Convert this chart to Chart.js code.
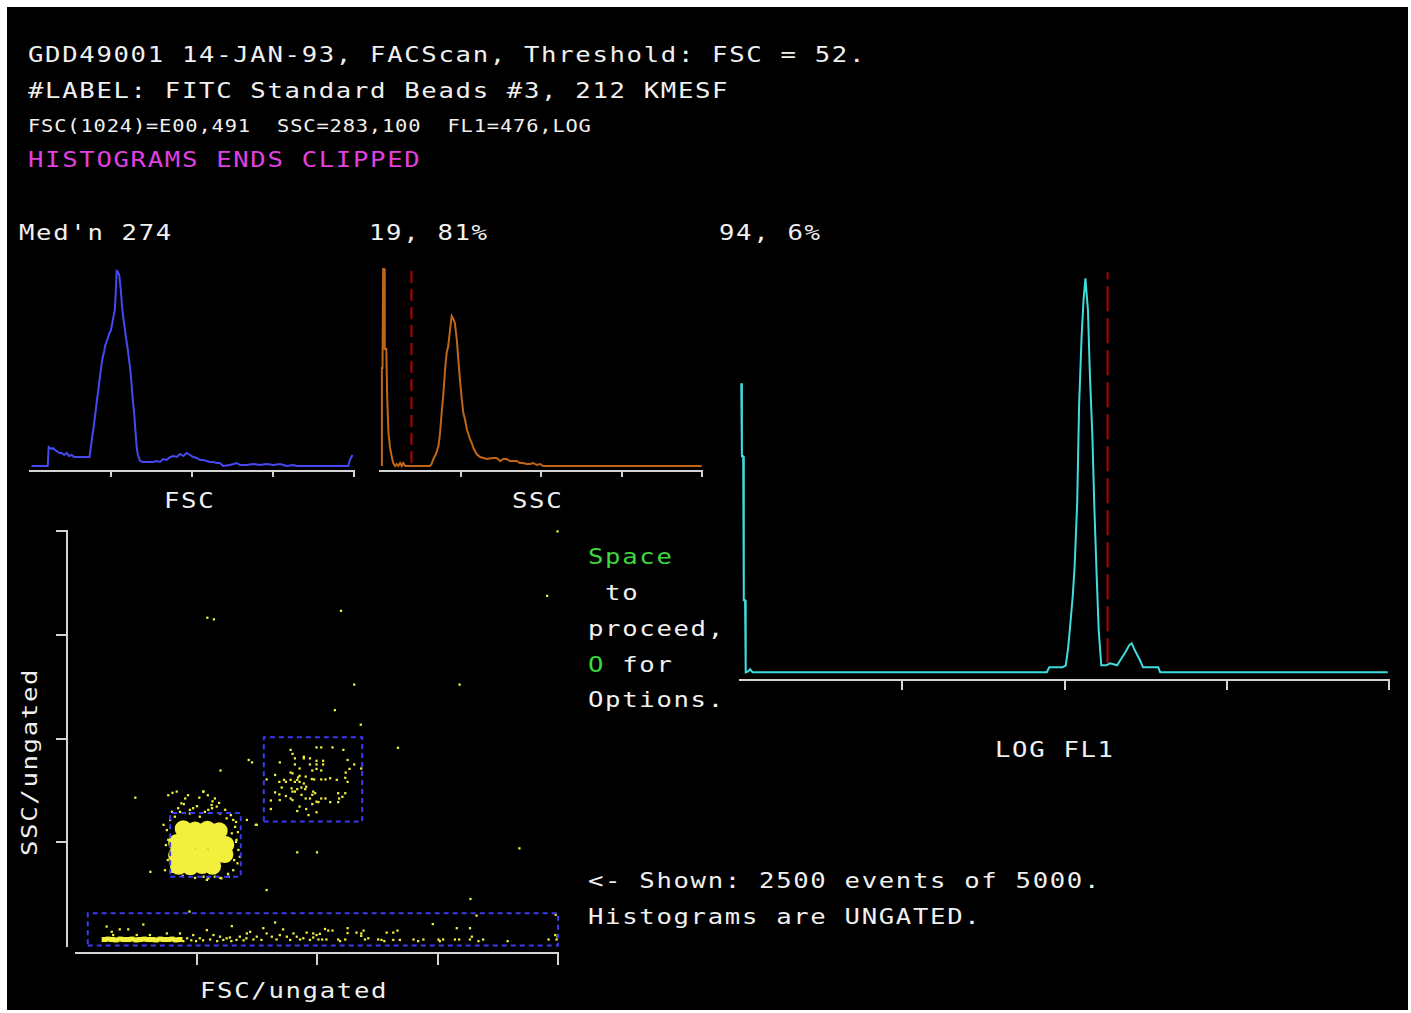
<!DOCTYPE html>
<html>
<head>
<meta charset="utf-8">
<script src="https://cdn.jsdelivr.net/npm/chart.js@4.4.1/dist/chart.umd.min.js"></script>
<style>
html,body{margin:0;padding:0;background:#ffffff;}
#screen{position:absolute;left:7px;top:7px;width:1401px;height:1003px;background:#000;}
.t{position:absolute;white-space:pre;font-family:'DejaVu Sans Mono',monospace;font-size:20.5px;line-height:24px;letter-spacing:1.34px;color:#f0f0f0;transform-origin:0 0;transform:scaleX(1.25);}
.s{font-size:17px;line-height:20px;letter-spacing:0.69px;transform:scaleX(1.2);}
.rot{transform:rotate(-90deg) scaleX(1.25);}
.mag{color:#e040e0;}
.grn{color:#3cd83c;}
canvas{position:absolute;}
</style>
</head>
<body>
<div id="screen"></div>

<div class="t" style="left:28px;top:43px;">GDD49001 14-JAN-93, FACScan, Threshold: FSC = 52.</div>
<div class="t" style="left:28px;top:79px;">#LABEL: FITC Standard Beads #3, 212 KMESF</div>
<div class="t s" style="left:28px;top:116px;">FSC(1024)=E00,491  SSC=283,100  FL1=476,LOG</div>
<div class="t mag" style="left:28px;top:147.5px;">HISTOGRAMS ENDS CLIPPED</div>

<div class="t" style="left:19px;top:221px;">Med'n 274</div>
<div class="t" style="left:369px;top:221px;">19, 81%</div>
<div class="t" style="left:719px;top:221px;">94, 6%</div>

<div class="t" style="left:164px;top:489px;">FSC</div>
<div class="t" style="left:512px;top:489px;">SSC</div>
<div class="t" style="left:995px;top:738px;">LOG FL1</div>
<div class="t" style="left:200px;top:979px;">FSC/ungated</div>
<div class="t rot" style="left:18px;top:856px;">SSC/ungated</div>

<div class="t grn" style="left:588px;top:545px;">Space</div>
<div class="t" style="left:588px;top:581px;"> to</div>
<div class="t" style="left:588px;top:617px;">proceed,</div>
<div class="t" style="left:588px;top:652.5px;"><span class="grn">O</span> for</div>
<div class="t" style="left:588px;top:688px;">Options.</div>

<div class="t" style="left:588px;top:869px;">&lt;- Shown: 2500 events of 5000.</div>
<div class="t" style="left:588px;top:905px;">Histograms are UNGATED.</div>

<canvas id="fsc" width="350" height="235" style="left:20px;top:250px;"></canvas>
<canvas id="ssc" width="350" height="235" style="left:370px;top:250px;"></canvas>
<canvas id="fl1" width="670" height="445" style="left:730px;top:255px;"></canvas>
<canvas id="dot" width="560" height="460" style="left:20px;top:520px;"></canvas>

<script>
// ---------- FSC histogram (channel, events) ----------
const fscChannel = [5,56,59,63,69,74,79,84,93,100,108,116,123,132,139,188,192,196,200,204,209,213,217,221,225,230,234,238,242,247,251,255,259,263,268,271,274,278,282,287,291,295,299,303,308,312,316,320,324,329,333,337,341,348,358,390,400,411,421,432,443,453,464,474,485,495,506,516,527,537,548,558,569,579,590,600,611,632,643,653,664,685,706,727,748,769,790,811,832,843,1006,1011,1019];
const fscCount = [0,0,19,18,17,18,16,15,13,13,11,13,10,11,9,9,18,28,36,46,59,69,79,89,99,109,114,121,124,129,133,135,141,148,156,173,195,194,191,176,159,148,139,129,119,109,99,86,69,53,36,19,11,5,4,4,5,4,7,6,9,10,9,12,10,13,11,9,8,6,6,5,4,4,3,3,0,1,2,3,1,1,2,1,2,1,2,0,1,0,0,6,11];

// ---------- SSC histogram ----------
const sscChannel = [6,6,8,10,13,15,20,23,27,32,37,42,48,53,58,64,69,74,80,159,164,170,178,186,191,196,201,207,212,217,223,228,233,238,244,249,254,260,265,270,276,281,286,292,297,302,307,318,329,339,360,371,382,392,403,413,424,435,445,456,466,477,488,498,509,519,1023];
const sscCount = [0,98,98,197,197,117,117,67,33,18,10,3,0,2,0,3,0,3,0,0,2,7,12,20,33,53,70,97,113,120,137,150,147,143,127,107,87,67,53,47,37,32,27,23,18,15,12,9,8,7,8,8,5,7,7,5,5,5,3,3,2,2,3,1,2,0,0];
const sscMarkerChannel = [100,100];
const sscMarkerCount = [3,197];

// ---------- LOG FL1 histogram ----------
const fl1Channel = [2,3,5,6,8,9,13,16,20,484,488,509,514,518,521,525,528,532,535,539,542,545,549,552,556,559,563,566,570,578,584,595,600,608,614,618,623,631,636,660,663,1022];
const fl1Count = [289,216,216,72,72,0,1,3,0,0,5,5,7,26,47,76,106,169,266,336,372,394,362,299,236,167,92,42,7,7,9,7,12,20,27,29,22,12,5,5,0,0];
const fl1MarkerChannel = [580,580];
const fl1MarkerCount = [9,400];

// ---------- FSC/SSC dot plot ----------
const outlierFsc = [1023,1001,279,293,563,591,815,550,605,684,307,367,374,126,270,382,470,512,942,158,405,838,241,758,851,1019];
const outlierSsc = [1023,864,810,806,827,645,645,582,546,489,433,459,453,366,381,299,231,231,241,183,138,116,85,54,75,77];

const cluster2Fsc = [511,521,545,568,456,460,465,484,484,497,511,525,433,465,475,497,511,525,502,521,511,577,591,581,606,456,460,423,475,488,573,572,442,432,446,456,465,470,475,472,484,501,506,521,530,540,554,577,405,489,479,458,460,437,423,432,446,465,470,487,504,508,502,497,488,479,456,460,433,414,521,530,540,557,559,572,566,557,511,515,502,475,470,489,511,494,414];
const cluster2Ssc = [490,490,490,484,484,474,463,467,463,463,457,457,453,448,438,448,448,448,433,433,437,459,448,437,438,428,426,422,420,418,428,415,410,405,405,410,405,410,405,416,401,412,411,411,411,414,410,405,411,393,391,389,381,391,379,374,370,381,387,387,381,377,373,364,364,373,364,360,360,359,364,364,355,377,364,377,368,355,356,355,350,344,333,338,330,323,338];

const haloFsc = [214,232,271,295,288,299,281,306,249,224,221,242,210,263,320,334,338,331,341,345,348,343,334,324,309,295,281,271,186,189,363,384,200,203,196,263,285,242,228,196,205,280,290,262,238,
                 204,217,229,242,257,274,289,304,317,329,340,344,340,336,323,306,278,253,227,204,195,191,193,200];
const haloSsc = [381,364,381,364,348,344,336,327,340,352,331,327,319,319,315,311,294,278,262,237,220,204,187,171,167,171,167,171,299,187,311,299,204,229,262,187,187,183,187,372,378,372,357,366,372,
                 331,340,350,336,345,331,340,353,336,323,306,281,257,212,178,168,163,168,173,183,212,249,286,311];

const coreFsc = [228,253,279,304,214,240,267,294,318,214,240,267,294,316,218,243,268,290];
const coreSsc = [289,286,288,284,255,253,256,253,250,224,222,225,221,226,197,196,199,197];

const bandFsc = [65,93,111,143,331,423,440,278,370,398,462,490,504,76,79,129,157,193,221,249,292,306,327,348,363,384,405,416,433,448,469,483,504,511,263,285,313,341,377,394,426,455,476,497,529,536,545,518,577,577,596,606,611,606,515,523,532,557,561,572,614,621,642,649,655,660,674,683,674,688,717,727,738,770,780,773,805,814,809,837,837,841,855,865,917,1004,1018,1023,1021,220,228,236,245,255,270,300,320,330,356,362];
const bandSsc = [48,41,41,53,49,58,41,39,35,44,31,33,31,35,27,27,27,31,31,27,27,23,21,23,31,23,31,23,27,23,23,19,21,27,19,16,15,15,16,15,16,15,16,15,42,38,38,30,44,32,33,31,38,25,16,16,16,16,12,16,16,19,16,15,12,33,33,38,15,15,16,12,16,16,16,12,16,16,44,44,16,23,12,16,12,16,27,23,16,16,12,19,14,12,14,12,19,12,14,19];

const stripFsc = [60,68,77,85,94,102,111,119,128,136,145,153,162,170,179,187,196,204,212,221];
const stripSsc = [16,17,16,15,17,16,16,17,15,16,17,16,16,15,17,16,16,17,15,16];

const gate1Fsc = [200,350,350,200,200], gate1Ssc = [171,171,328,328,171];
const gate2Fsc = [399,608,608,399,399], gate2Ssc = [307,307,515,515,307];
const gate3Fsc = [25,1024,1024,25,25],  gate3Ssc = [1,1,81,81,1];

// ---------- styling ----------
const AXIS = '#d4d4d4';
const YELLOW = '#f2f03c';
const GATE = '#3a3aee';

const xy = (xs, ys) => xs.map((x, i) => ({x: x, y: ys[i]}));

function chanAxis(tickLen, h) {
  return {
    type: 'linear', min: 0, max: 1024,
    ticks: {stepSize: 256, display: false},
    afterBuildTicks: s => { s.ticks = s.ticks.filter(t => t.value > 0); },
    afterFit: s => { s.height = h; },
    grid: {drawOnChartArea: false, drawTicks: true, tickLength: tickLen, color: AXIS, lineWidth: 2},
    border: {display: true, color: AXIS, width: 2}
  };
}
function baseOpts(pad) {
  return {
    responsive: false, animation: false, events: [],
    layout: {padding: pad},
    plugins: {legend: {display: false}, tooltip: {enabled: false}}
  };
}
function trace(xs, ys, color) {
  return {data: xy(xs, ys), showLine: true, borderColor: color, borderWidth: 2,
          pointRadius: 0, tension: 0, fill: false, clip: false};
}
function marker(xs, ys, dash) {
  return {data: xy(xs, ys), showLine: true, borderColor: '#b80000', borderWidth: 2,
          borderDash: dash, pointRadius: 0, fill: false, clip: false};
}

// FSC
new Chart(document.getElementById('fsc'), {
  type: 'scatter',
  data: {datasets: [trace(fscChannel, fscCount, '#4848f2')]},
  options: Object.assign(baseOpts({left: 10, right: 16, top: 5, bottom: 0}), {
    scales: {x: chanAxis(6, 14), y: {display: false, min: -5, max: 211}}
  })
});

// SSC
new Chart(document.getElementById('ssc'), {
  type: 'scatter',
  data: {datasets: [marker(sscMarkerChannel, sscMarkerCount, [12, 6]), trace(sscChannel, sscCount, '#c06616')]},
  options: Object.assign(baseOpts({left: 10, right: 18, top: 5, bottom: 0}), {
    scales: {x: chanAxis(6, 14), y: {display: false, min: -5, max: 211}}
  })
});

// LOG FL1
new Chart(document.getElementById('fl1'), {
  type: 'scatter',
  data: {datasets: [trace(fl1Channel, fl1Count, '#40dcdc'), marker(fl1MarkerChannel, fl1MarkerCount, [25, 7])]},
  options: Object.assign(baseOpts({left: 10, right: 11, top: 10, bottom: 0}), {
    scales: {x: chanAxis(10, 20), y: {display: false, min: -7.7, max: 407.3}}
  })
});

// dot plot with axes set off from the data area
const offsetAxes = {
  id: 'offsetAxes',
  afterLayout(chart) {
    const x = chart.scales.x, y = chart.scales.y;
    x.top += 7; x.bottom += 7;
    y.left -= 9; y.right -= 9;
  }
};
function gate(xs, ys) {
  return {data: xy(xs, ys), showLine: true, borderColor: GATE, borderWidth: 2,
          borderDash: [5, 4], pointRadius: 0, fill: false, clip: false, order: 0};
}
function dots(xs, ys, style, r, ord) {
  return {data: xy(xs, ys), showLine: false, pointStyle: style, pointRadius: r,
          backgroundColor: YELLOW, borderWidth: 0, clip: false, order: ord};
}
const dotY = chanAxis(11, 0);
dotY.afterFit = s => { s.width = 56; };
new Chart(document.getElementById('dot'), {
  type: 'scatter',
  data: {datasets: [
    gate(gate1Fsc, gate1Ssc), gate(gate2Fsc, gate2Ssc), gate(gate3Fsc, gate3Ssc),
    dots(outlierFsc, outlierSsc, 'rect', 1.6, 1),
    dots(cluster2Fsc, cluster2Ssc, 'rect', 1.6, 1),
    dots(haloFsc, haloSsc, 'rect', 1.6, 1),
    dots(bandFsc, bandSsc, 'rect', 1.6, 1),
    dots(stripFsc, stripSsc, 'rect', 3.6, 2),
    dots(coreFsc, coreSsc, 'circle', 8.6, 2)
  ]},
  options: Object.assign(baseOpts({left: 0, right: 22, top: 11, bottom: 0}), {
    scales: {x: chanAxis(12, 34), y: dotY}
  }),
  plugins: [offsetAxes]
});
</script>
</body>
</html>
